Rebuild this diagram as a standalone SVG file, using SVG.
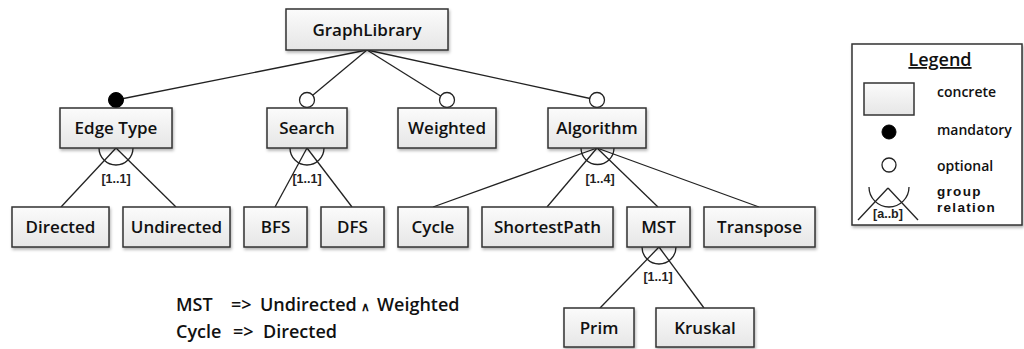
<svg xmlns="http://www.w3.org/2000/svg" width="1024" height="349" viewBox="0 0 1024 349">
<defs>
<linearGradient id="g" x1="0" y1="0" x2="0" y2="1">
<stop offset="0" stop-color="#fbfbfb"/>
<stop offset="1" stop-color="#e6e6e6"/>
</linearGradient>
<filter id="sh" x="-20%" y="-20%" width="140%" height="150%">
<feDropShadow dx="1" dy="2" stdDeviation="1.5" flood-color="#000" flood-opacity="0.3"/>
</filter>
<style>
.box{fill:url(#g);stroke:#333;stroke-width:1.5;filter:url(#sh)}
.lbl{font-family:"Open Sans","Liberation Sans",sans-serif;font-size:17px;font-weight:600;fill:#111;text-anchor:middle}
.ln{stroke:#222;stroke-width:1.3;fill:none}
.arc{stroke:#222;stroke-width:1.3;fill:none}
.card{font-family:"Liberation Sans",Arial,sans-serif;font-size:12.5px;font-weight:bold;fill:#222;text-anchor:middle}
.opt{fill:#fff;stroke:#222;stroke-width:1.3}
.man{fill:#000;stroke:#000;stroke-width:1}
.leg{font-family:"Open Sans","Liberation Sans",sans-serif;font-size:14px;font-weight:600;fill:#111}
.gr{font-family:"Liberation Sans",Arial,sans-serif;font-size:13.5px;font-weight:bold;fill:#111;letter-spacing:1.3px}
.con{font-family:"Open Sans","Liberation Sans",sans-serif;font-size:18px;font-weight:600;fill:#111}
</style>
</defs>
<rect width="1024" height="349" fill="#fff"/>
<g id="connectors">
<line class="ln" x1="367" y1="50" x2="116" y2="100"/>
<line class="ln" x1="367" y1="50" x2="307" y2="100"/>
<line class="ln" x1="367" y1="50" x2="447" y2="100"/>
<line class="ln" x1="367" y1="50" x2="597" y2="100"/>
<line class="ln" x1="116" y1="148" x2="61" y2="207"/>
<line class="ln" x1="116" y1="148" x2="176" y2="207"/>
<line class="ln" x1="307" y1="148" x2="275" y2="207"/>
<line class="ln" x1="307" y1="148" x2="352" y2="207"/>
<line class="ln" x1="597" y1="148" x2="433" y2="207"/>
<line class="ln" x1="597" y1="148" x2="547" y2="207"/>
<line class="ln" x1="597" y1="148" x2="658" y2="207"/>
<line class="ln" x1="597" y1="148" x2="759" y2="207"/>
<line class="ln" x1="659" y1="247" x2="600" y2="308"/>
<line class="ln" x1="659" y1="247" x2="704" y2="308"/>
<path class="arc" d="M99,148 A17,17 0 0 0 133,148"/>
<path class="arc" d="M290,148 A17,17 0 0 0 324,148"/>
<path class="arc" d="M581,148 A16.5,16.5 0 0 0 614,148"/>
<path class="arc" d="M642,247 A17,17 0 0 0 676,247"/>
<text class="card" x="116" y="183">[1..1]</text>
<text class="card" x="307" y="183">[1..1]</text>
<text class="card" x="600" y="183">[1..4]</text>
<text class="card" x="658" y="281">[1..1]</text>
<circle class="man" cx="116" cy="100" r="7.5"/>
<circle class="opt" cx="307" cy="100" r="7.5"/>
<circle class="opt" cx="447" cy="100" r="7.5"/>
<circle class="opt" cx="597" cy="100" r="7.5"/>
</g>
<g id="GraphLibrary"><rect class="box" x="286" y="9" width="162" height="41"/><text class="lbl" x="367" y="36">GraphLibrary</text></g>
<g id="EdgeType"><rect class="box" x="60" y="108" width="112" height="40"/><text class="lbl" x="116" y="134">Edge Type</text></g>
<g id="Search"><rect class="box" x="267" y="108" width="80" height="40"/><text class="lbl" x="307" y="134">Search</text></g>
<g id="Weighted"><rect class="box" x="398" y="108" width="98" height="40"/><text class="lbl" x="447" y="134">Weighted</text></g>
<g id="Algorithm"><rect class="box" x="548" y="108" width="98" height="40"/><text class="lbl" x="597" y="134">Algorithm</text></g>
<g id="Directed"><rect class="box" x="12" y="207" width="97" height="40"/><text class="lbl" x="60.5" y="233">Directed</text></g>
<g id="Undirected"><rect class="box" x="123" y="207" width="107" height="40"/><text class="lbl" x="176.5" y="233">Undirected</text></g>
<g id="BFS"><rect class="box" x="244" y="207" width="63" height="40"/><text class="lbl" x="275.5" y="233">BFS</text></g>
<g id="DFS"><rect class="box" x="321" y="207" width="63" height="40"/><text class="lbl" x="352.5" y="233">DFS</text></g>
<g id="Cycle"><rect class="box" x="398" y="207" width="70" height="40"/><text class="lbl" x="433" y="233">Cycle</text></g>
<g id="ShortestPath"><rect class="box" x="482" y="207" width="131" height="40"/><text class="lbl" x="547.5" y="233">ShortestPath</text></g>
<g id="MST"><rect class="box" x="627" y="207" width="63" height="40"/><text class="lbl" x="658.5" y="233">MST</text></g>
<g id="Transpose"><rect class="box" x="704" y="207" width="111" height="40"/><text class="lbl" x="759.5" y="233">Transpose</text></g>
<g id="Prim"><rect class="box" x="564" y="308" width="70" height="39"/><text class="lbl" x="599" y="334">Prim</text></g>
<g id="Kruskal"><rect class="box" x="656" y="308" width="98" height="39"/><text class="lbl" x="705" y="334">Kruskal</text></g>
<g id="constraints">
<text class="con" y="311"><tspan x="176">MST</tspan><tspan x="231">=&gt;</tspan><tspan x="260">Undirected</tspan><tspan x="361" font-size="12">∧</tspan><tspan x="377">Weighted</tspan></text>
<text class="con" y="338"><tspan x="176">Cycle</tspan><tspan x="233">=&gt;</tspan><tspan x="263">Directed</tspan></text>
</g>
<g id="legend">
<rect x="852" y="44" width="170" height="181" fill="#fff" stroke="#333" stroke-width="1.5" filter="url(#sh)"/>
<text x="940" y="66" font-family="'Open Sans','Liberation Sans',sans-serif" font-size="18" font-weight="600" fill="#111" text-anchor="middle" text-decoration="underline">Legend</text>
<rect class="box" x="864" y="83" width="50" height="32" style="filter:none"/>
<text class="leg" x="937" y="97">concrete</text>
<circle class="man" cx="889" cy="132" r="7"/>
<text class="leg" x="937" y="135">mandatory</text>
<circle class="opt" cx="889" cy="165" r="7"/>
<text class="leg" x="937" y="171">optional</text>
<path class="arc" d="M869,187 A20,20 0 0 0 909,187"/>
<line class="ln" x1="888" y1="188" x2="858" y2="220"/>
<line class="ln" x1="888" y1="188" x2="918" y2="220"/>
<text class="card" x="888" y="218" font-size="10">[a..b]</text>
<text class="gr" x="937" y="196">group</text>
<text class="gr" x="937" y="212">relation</text>
</g>
</svg>
